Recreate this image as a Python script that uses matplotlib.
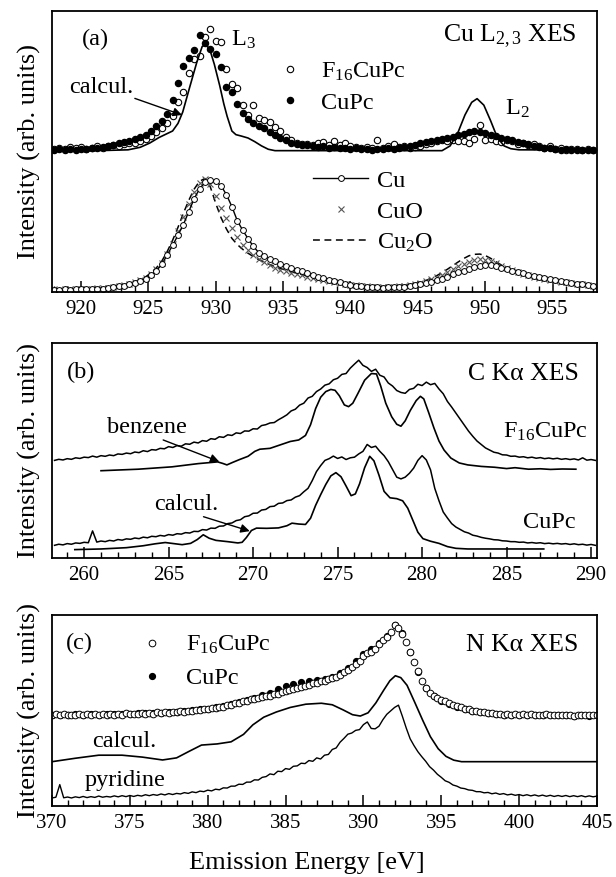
import numpy as np
import matplotlib
matplotlib.use("Agg")
import matplotlib.pyplot as plt
from matplotlib.ticker import MultipleLocator

plt.rcParams['font.family'] = ['Liberation Serif', 'DejaVu Serif']
plt.rcParams['mathtext.fontset'] = 'custom'
plt.rcParams['mathtext.rm'] = 'Liberation Serif'
plt.rcParams['mathtext.it'] = 'Liberation Serif:italic'

# ---------------- (a) Cu L2,3 XES, sampled every 0.4 eV from 918 eV ----------------
cu_start, cu_step = 918.0, 0.4
f16_cu = [51.0, 51.3, 50.8, 51.5, 51.2, 51.6, 51.0, 51.4, 51.8, 51.3,
          52.0, 52.3, 52.0, 52.6, 53.0, 53.2, 53.8, 54.6, 55.5, 57.0,
          58.5, 60.3, 62.5, 67.5, 71.2, 78.0, 83.0, 84.0, 90.7, 93.6,
          89.4, 89.0, 79.4, 74.0, 72.5, 66.5, 63.0, 66.5, 61.8, 61.2,
          60.6, 58.8, 57.2, 55.3, 54.2, 53.2, 52.8, 52.5, 52.2, 53.0,
          53.5, 52.3, 53.6, 52.2, 53.2, 51.8, 51.5, 51.2, 51.6, 51.3,
          54.2, 51.3, 51.8, 52.8, 51.6, 51.8, 51.3, 51.5, 52.0, 52.8,
          53.2, 53.6, 54.0, 53.8, 54.2, 53.6, 53.8, 53.2, 54.5, 59.4,
          54.2, 54.6, 53.8, 53.5, 54.0, 53.8, 52.8, 53.2, 52.2, 52.6,
          51.8, 51.2, 51.8, 50.8, 51.3, 50.6, 51.0, 50.8, 50.4, 50.8,
          50.5]
cupc_cu = [50.6, 50.9, 50.5, 50.8, 50.6, 51.0, 50.8, 51.4, 51.2, 51.6,
           52.0, 52.3, 53.0, 53.3, 53.8, 54.6, 55.3, 56.0, 57.4, 59.0,
           61.0, 63.2, 68.4, 74.2, 80.5, 83.4, 86.0, 91.5, 88.5, 86.5,
           84.7, 80.2, 73.0, 71.0, 67.0, 63.6, 61.6, 60.0, 59.2, 58.2,
           57.0, 55.8, 54.8, 54.0, 53.2, 52.8, 52.4, 52.2, 52.0, 51.6,
           51.8, 51.4, 51.6, 51.2, 51.4, 51.0, 51.2, 50.8, 51.0, 50.7,
           51.0, 50.8, 51.1, 51.0, 51.4, 51.6, 52.0, 52.4, 52.9, 53.3,
           53.6, 54.0, 54.5, 54.9, 55.3, 55.8, 56.3, 56.8, 57.2, 56.8,
           56.6, 56.0, 55.4, 54.8, 54.4, 54.0, 53.4, 52.9, 52.5, 52.0,
           51.7, 51.4, 51.1, 50.9, 50.7, 50.8, 50.5, 50.7, 50.4, 50.6,
           50.4]
calc_cu_e = [917.85, 920.0, 922.0, 923.5, 924.4, 925.1, 925.8, 926.8, 927.2, 927.55,
             928.1, 928.6, 929.0, 929.25, 929.55, 929.9, 930.3, 930.6, 930.85, 931.2,
             931.5, 931.9, 932.4, 932.9, 933.4, 933.9, 934.4, 946.8, 947.4, 948.0,
             948.5, 949.0, 949.4, 949.9, 950.4, 950.9, 951.4, 951.9, 952.5, 958.3]
calc_cu = [50.3, 50.3, 50.4, 50.6, 51.5, 53.0, 55.0, 57.3, 60.0, 64.0,
           73.4, 81.8, 87.4, 88.0, 86.5, 81.0, 73.4, 67.0, 62.5, 57.3,
           56.0, 55.5, 54.8, 53.5, 52.0, 50.8, 50.3, 50.3, 52.0, 57.0,
           63.0, 67.5, 68.8, 66.5, 61.0, 55.0, 52.0, 51.0, 50.6, 50.5]
cu_metal = [0.8, 0.7, 0.9, 0.8, 1.0, 0.9, 1.1, 1.0, 1.2, 1.2,
            1.4, 1.7, 2.0, 2.3, 2.7, 3.2, 3.8, 4.7, 5.9, 7.6,
            9.8, 13.2, 16.6, 20.2, 24.0, 28.6, 33.2, 36.7, 39.0, 40.0,
            39.4, 37.8, 34.6, 30.4, 25.4, 22.0, 19.0, 16.2, 14.0, 12.8,
            11.8, 11.0, 10.1, 9.4, 8.7, 8.0, 7.3, 6.6, 6.0, 5.4,
            4.9, 4.3, 3.8, 3.4, 3.0, 2.6, 2.3, 2.1, 1.9, 1.8,
            1.7, 1.6, 1.7, 1.7, 1.8, 1.9, 2.1, 2.4, 2.7, 3.1,
            3.6, 4.2, 4.8, 5.5, 6.3, 7.0, 7.6, 8.3, 8.8, 9.3,
            9.6, 9.5, 9.1, 8.7, 8.1, 7.6, 7.1, 6.6, 6.1, 5.7,
            5.3, 4.9, 4.5, 4.2, 3.8, 3.5, 3.2, 3.0, 2.7, 2.5,
            2.3]
cu_oxide = [0.9, 0.8, 1.0, 0.9, 1.1, 1.0, 1.2, 1.1, 1.3, 1.4,
            1.6, 1.8, 2.1, 2.5, 2.9, 3.5, 4.2, 5.1, 6.4, 8.1,
            10.2, 13.4, 17.2, 21.8, 26.8, 31.4, 35.6, 38.8, 40.2, 38.4,
            34.0, 30.0, 26.3, 22.6, 19.4, 16.8, 14.8, 13.2, 11.9, 10.8,
            9.6, 8.7, 8.0, 7.4, 6.9, 6.4, 5.9, 5.4, 5.0, 4.6,
            4.2, 3.8, 3.4, 3.1, 2.8, 2.6, 2.4, 2.2, 2.0, 1.9,
            1.8, 1.8, 1.9, 1.9, 2.0, 2.2, 2.5, 2.8, 3.3, 3.8,
            4.5, 5.3, 6.2, 7.2, 8.2, 9.2, 10.1, 10.8, 11.3, 11.6,
            11.5, 11.0, 10.2, 9.3, 8.5, 7.8, 7.1, 6.5, 6.0, 5.5,
            5.1, 4.7, 4.3, 4.0, 3.7, 3.4, 3.1, 2.9, 2.7, 2.5,
            2.3]
cu2_oxide = [0.8, 0.8, 0.9, 0.9, 1.0, 1.0, 1.1, 1.2, 1.3, 1.4,
             1.6, 1.9, 2.2, 2.6, 3.1, 3.7, 4.4, 5.4, 6.8, 8.6,
             11.0, 14.4, 18.4, 23.0, 28.0, 32.6, 36.6, 39.4, 40.4, 37.4,
             31.6, 26.4, 22.4, 19.1, 16.9, 15.2, 13.8, 12.6, 11.5, 10.6,
             9.8, 9.0, 8.4, 7.8, 7.2, 6.7, 6.2, 5.7, 5.2, 4.8,
             4.4, 4.0, 3.6, 3.3, 3.0, 2.7, 2.5, 2.3, 2.1, 2.0,
             1.9, 1.9, 1.9, 2.0, 2.1, 2.3, 2.6, 3.0, 3.5, 4.1,
             4.9, 5.8, 6.9, 8.1, 9.4, 10.7, 11.9, 12.9, 13.4, 13.5,
             13.0, 12.0, 10.8, 9.6, 8.6, 7.8, 7.1, 6.5, 5.9, 5.4,
             5.0, 4.6, 4.2, 3.9, 3.6, 3.3, 3.1, 2.9, 2.7, 2.5,
             2.3]

# ---------------- (b) C K-alpha XES, sampled every 0.25 eV from 258.25 eV ----------------
c_start, c_step = 258.25, 0.25
f16_c = [45.4, 45.9, 45.6, 46.2, 45.9, 46.6, 46.3, 46.9,
         46.7, 47.4, 46.9, 47.6, 47.3, 47.9, 47.6, 48.4,
         48.2, 48.8, 48.5, 49.3, 49.0, 49.9, 49.5, 50.4,
         50.2, 51.0, 50.8, 51.8, 51.4, 52.3, 52.0, 53.1,
         52.9, 53.9, 53.5, 54.6, 54.3, 55.5, 55.2, 56.4,
         56.1, 57.3, 57.0, 58.2, 57.9, 59.1, 59.0, 60.1,
         60.0, 61.6, 62.0, 62.8, 63.0, 64.3, 65.4, 66.6,
         68.4, 69.2, 71.1, 72.0, 74.4, 75.2, 77.4, 78.6,
         80.4, 81.0, 82.9, 83.6, 85.4, 85.8, 88.3, 90.2,
         92.0, 89.6, 88.6, 86.8, 87.8, 85.0, 84.2, 81.4,
         80.0, 77.9, 77.0, 76.6, 78.4, 78.9, 80.8, 80.2,
         81.8, 80.6, 81.2, 78.6, 76.4, 72.8, 70.2, 67.4,
         64.6, 61.8, 59.0, 56.6, 54.4, 52.8, 51.2, 50.2,
         49.2, 48.8, 48.0, 47.9, 47.3, 47.4, 46.9, 47.1,
         46.6, 46.9, 46.4, 46.7, 46.2, 46.5, 46.1, 46.4,
         45.9, 46.2, 45.8, 46.1, 45.6, 46.6, 45.5, 45.8,
         45.4]
cupc_c = [5.9, 6.4, 6.1, 6.7, 6.4, 7.0, 6.8, 7.3,
          7.1, 12.6, 7.4, 7.9, 7.6, 8.2, 7.9, 8.6,
          8.3, 8.9, 8.7, 9.3, 9.0, 9.7, 9.4, 10.1,
          9.9, 10.5, 10.2, 10.9, 10.6, 11.3, 11.1, 11.8,
          11.6, 12.4, 12.3, 13.2, 13.0, 13.9, 13.8, 14.8,
          14.9, 16.0, 16.3, 17.4, 17.8, 19.2, 19.6, 20.8,
          20.9, 22.3, 22.6, 23.9, 24.1, 25.4, 25.6, 26.7,
          27.0, 28.3, 29.0, 30.8, 32.4, 36.0, 40.2, 43.0,
          45.4, 46.2, 47.4, 46.3, 47.0, 45.8, 46.6, 46.9,
          48.4, 49.6, 52.8, 51.4, 52.0, 49.6, 47.6, 44.8,
          41.2, 37.6, 36.8, 37.6, 39.4, 41.8, 45.4, 47.6,
          45.6, 41.0, 32.4, 26.6, 21.4, 18.6, 16.0, 14.4,
          13.3, 12.2, 11.6, 10.6, 10.2, 9.6, 9.2, 8.9,
          8.5, 8.4, 8.0, 7.9, 7.6, 7.6, 7.3, 7.4,
          7.0, 7.2, 6.9, 7.1, 6.7, 6.9, 6.6, 6.8,
          6.5, 6.7, 6.3, 6.6, 6.2, 6.4, 6.0, 6.3,
          5.9]
benzene_e = [261.0, 263.2, 265.2, 266.75, 267.9, 268.2, 268.45, 268.8, 269.2, 269.7,
             270.1, 270.4, 271.0, 271.6, 272.2, 272.7, 273.1, 273.4, 273.7, 274.0,
             274.3, 274.6, 274.85, 275.1, 275.4, 275.65, 275.9, 276.2, 276.6, 277.0,
             277.3, 277.55, 277.85, 278.2, 278.5, 278.75, 279.0, 279.3, 279.65, 279.9,
             280.1, 280.4, 280.7, 281.0, 281.3, 281.7, 282.2, 282.7, 283.5, 284.3,
             285.0, 285.5, 286.3, 287.0, 287.6, 288.3, 289.1]
benzene = [40.6, 41.3, 42.4, 43.9, 44.7, 44.0, 43.3, 44.5, 45.8, 47.3,
           49.6, 50.6, 51.0, 52.6, 54.2, 54.9, 57.0, 62.0, 69.5, 74.8,
           77.4, 78.4, 78.0, 75.5, 71.2, 70.4, 72.0, 76.5, 82.7, 85.8,
           85.6, 80.0, 72.0, 65.7, 62.2, 61.3, 63.8, 68.6, 73.2, 75.2,
           74.0, 67.4, 60.5, 54.4, 50.2, 46.5, 44.2, 43.3, 42.6, 42.2,
           41.6, 42.0, 41.3, 41.5, 41.2, 41.4, 41.3]
calc_c_e = [259.45, 261.0, 262.5, 263.5, 264.2, 264.8, 265.3, 265.8, 266.3, 266.7,
            267.05, 267.4, 267.8, 268.5, 269.1, 269.35, 269.6, 269.9, 270.2, 270.8,
            271.5, 272.0, 272.3, 272.7, 273.1, 273.4, 273.7, 274.0, 274.3, 274.6,
            274.9, 275.2, 275.5, 275.8, 276.05, 276.3, 276.6, 276.9, 277.15, 277.45,
            277.75, 278.1, 278.5, 278.85, 279.15, 279.45, 279.75, 280.05, 280.5, 281.0,
            281.5, 282.0, 282.7, 287.2]
calc_c = [3.9, 4.2, 4.8, 5.7, 6.6, 7.2, 6.7, 6.2, 6.8, 8.6,
          10.8, 9.2, 8.2, 7.6, 7.0, 7.3, 9.5, 12.8, 13.9, 13.8,
          14.0, 15.0, 16.2, 15.8, 15.6, 18.5, 24.5, 29.5, 34.2, 38.2,
          39.7, 37.8, 33.5, 29.0, 29.8, 34.5, 42.0, 47.3, 45.2, 38.5,
          31.0, 28.0, 27.6, 26.6, 23.2, 17.6, 12.0, 9.0, 7.8, 6.8,
          5.3, 4.5, 4.2, 4.2]

# ---------------- (c) N K-alpha XES, sampled every 0.25 eV from 370 eV ----------------
n_start, n_step = 370.0, 0.25
f16_n = [47.4, 48.0, 47.5, 48.1, 47.6, 47.9, 47.4, 48.2,
         47.7, 48.0, 47.6, 48.3, 47.8, 48.1, 47.7, 48.4,
         47.9, 48.2, 47.8, 48.5, 48.0, 48.4, 48.0, 48.7,
         48.3, 48.7, 48.4, 49.0, 48.7, 49.1, 48.8, 49.4,
         49.1, 49.6, 49.4, 50.0, 49.8, 50.3, 50.2, 50.8,
         50.6, 51.3, 51.2, 52.0, 52.0, 52.9, 53.0, 53.9,
         53.8, 54.8, 54.9, 55.8, 56.0, 56.6, 56.9, 57.6,
         57.8, 58.6, 58.9, 59.8, 60.2, 60.9, 61.2, 62.0,
         62.3, 63.0, 63.4, 64.2, 64.5, 65.3, 65.6, 66.3,
         66.8, 67.8, 68.6, 70.0, 71.4, 73.0, 74.4, 76.0,
         78.4, 80.2, 80.8, 82.4, 84.8, 86.8, 88.6, 91.2,
         94.6, 93.0, 90.0, 86.0, 80.8, 75.4, 70.6, 65.6,
         62.0, 59.4, 57.8, 56.6, 55.6, 54.8, 53.8, 53.0,
         52.4, 51.6, 51.0, 50.6, 50.0, 49.6, 49.2, 49.0,
         48.6, 48.5, 48.2, 48.3, 47.9, 48.2, 47.8, 48.1,
         47.6, 48.0, 47.5, 48.0, 47.6, 47.9, 47.4, 48.0,
         47.6, 47.9, 47.4, 47.9, 47.5, 47.8, 47.3, 47.9,
         47.5, 47.8, 47.4, 47.8, 47.4]
cupc_n_step = 0.5
cupc_n = [47.6, 47.9, 47.7, 48.0, 47.8, 48.1, 47.9, 48.2,
          48.0, 48.3, 48.2, 48.5, 48.5, 48.8, 48.9, 49.2,
          49.4, 49.8, 50.1, 50.6, 51.0, 51.7, 52.5, 53.5,
          54.5, 55.6, 56.8, 58.0, 59.4, 61.0, 62.6, 64.0,
          65.0, 65.6, 66.0, 66.6, 67.6, 69.4, 72.4, 76.0,
          79.8, 82.4, 85.4, 89.2, 95.0, 90.4, 80.6, 70.0,
          61.6, 57.4, 55.2, 53.4, 52.0, 50.8, 49.8, 49.0,
          48.5, 48.1, 47.9, 47.7, 47.7, 47.5, 47.6, 47.4,
          47.5, 47.4, 47.5, 47.3, 47.4, 47.3, 47.4]
calc_n_e = [370.0, 371.5, 373.0, 374.5, 375.8, 377.1, 378.0, 378.8, 379.6, 380.6,
            381.5, 382.3, 382.9, 383.6, 384.4, 385.3, 386.3, 387.3, 388.0, 388.7,
            389.3, 389.8, 390.3, 390.8, 391.3, 391.7, 392.05, 392.4, 392.8, 393.3,
            393.8, 394.3, 394.8, 395.3, 395.8, 396.3, 405.0]
calc_n = [23.2, 25.0, 26.6, 26.6, 25.6, 24.1, 25.2, 28.6, 31.9, 32.5,
          33.6, 37.5, 42.5, 46.5, 49.2, 51.6, 53.3, 53.8, 53.0, 50.3,
          47.8, 47.1, 48.8, 54.0, 60.6, 65.6, 68.2, 67.2, 63.2, 54.2,
          45.0, 36.3, 30.0, 26.0, 24.0, 23.2, 23.2]
pyridine = [4.2, 4.6, 11.2, 4.3, 4.7, 4.2, 4.8, 4.4,
            5.0, 4.4, 4.9, 4.5, 5.2, 4.6, 5.0, 4.7,
            5.3, 4.8, 5.4, 4.9, 5.5, 5.0, 5.6, 5.2,
            5.9, 5.4, 6.0, 5.6, 6.3, 5.8, 6.5, 6.0,
            6.6, 6.3, 7.0, 6.6, 7.4, 7.0, 7.8, 7.5,
            8.3, 7.9, 8.8, 8.5, 9.5, 9.4, 10.4, 10.4,
            11.4, 11.3, 12.5, 12.5, 13.7, 13.6, 15.0, 15.4,
            16.8, 16.4, 18.2, 18.0, 19.6, 19.2, 20.8, 21.0,
            22.4, 22.2, 23.8, 23.4, 25.2, 24.6, 26.6, 27.0,
            29.6, 30.4, 33.4, 35.4, 37.6, 38.2, 39.6, 40.0,
            42.6, 44.0, 40.6, 40.4, 41.8, 45.2, 48.0, 49.8,
            51.6, 52.8, 47.0, 40.8, 35.2, 31.6, 28.4, 25.8,
            23.4, 20.6, 18.8, 16.6, 15.0, 13.2, 12.4, 11.0,
            10.4, 9.4, 9.1, 8.4, 8.2, 7.5, 7.5, 6.9,
            7.1, 6.4, 6.8, 6.1, 6.5, 5.8, 6.2, 5.6,
            6.0, 5.4, 5.9, 5.3, 5.8, 5.2, 5.7, 5.1,
            5.6, 5.0, 5.5, 5.0, 5.5, 4.9, 5.4, 4.9,
            5.4, 4.8, 5.3, 4.8, 5.2]


def grid(start, step, values):
    return start + step * np.arange(len(values))


def style_panel(ax, xlim, majors):
    ax.set_xlim(*xlim)
    ax.set_ylim(0, 100)
    ax.set_yticks([])
    ax.set_xticks(majors)
    ax.xaxis.set_minor_locator(MultipleLocator(1))
    ax.tick_params(axis='x', which='major', direction='in', length=8, width=1.1,
                   labelsize=15, pad=6)
    ax.tick_params(axis='x', which='minor', direction='in', length=4, width=1.0)
    for sp in ax.spines.values():
        sp.set_linewidth(1.3)
    ax.set_ylabel('Intensity (arb. units)', fontsize=19)
    ax.yaxis.set_label_coords(-0.02, 0.5)


def arrow(ax, head, tail):
    ax.annotate('', xy=head, xycoords='data', xytext=tail, textcoords='axes fraction',
                arrowprops=dict(arrowstyle='-|>', lw=1.0, color='k',
                                mutation_scale=13, shrinkA=0, shrinkB=0))


fig = plt.figure(figsize=(6.16, 8.77), dpi=100)
ax_a = fig.add_axes([52 / 616, 1 - 292 / 877, 545 / 616, 281 / 877])
ax_b = fig.add_axes([52 / 616, 1 - 558 / 877, 545 / 616, 215 / 877])
ax_c = fig.add_axes([52 / 616, 1 - 806 / 877, 545 / 616, 191 / 877])
fs = 17.5

# ---- panel (a)
e_a = grid(cu_start, cu_step, f16_cu)
h_f16, = ax_a.plot(e_a, f16_cu, 'o', ms=4.6, mfc='white', mec='k', mew=0.8,
                   label='F$_{16}$CuPc')
h_cupc, = ax_a.plot(grid(cu_start, cu_step, cupc_cu), cupc_cu, 'o', ms=4.4,
                    color='k', label='CuPc')
ax_a.plot(calc_cu_e, calc_cu, '-', color='k', lw=1.2)
h_cu2o, = ax_a.plot(grid(cu_start, cu_step, cu2_oxide), cu2_oxide, color='k', lw=1.1,
                    ls=(0, (4.5, 3)), label='Cu$_2$O')
h_cuo, = ax_a.plot(grid(cu_start, cu_step, cu_oxide), cu_oxide, 'x', ms=4.2,
                   mew=0.8, color='#555555', label='CuO')
h_cu, = ax_a.plot(grid(cu_start, cu_step, cu_metal), cu_metal, '-o', color='k', lw=1.0,
                  ms=4.2, mfc='white', mew=0.7, label='Cu')
style_panel(ax_a, (917.85, 958.3), range(920, 956, 5))

leg1 = ax_a.legend([h_f16, h_cupc], ['F$_{16}$CuPc', 'CuPc'], loc='upper left',
                   bbox_to_anchor=(0.415, 0.823), frameon=False, fontsize=fs,
                   handlelength=1.0, handletextpad=0.75, labelspacing=0.36,
                   borderpad=0, borderaxespad=0, numpoints=1)
ax_a.add_artist(leg1)
ax_a.legend([h_cu, h_cuo, h_cu2o], ['Cu', 'CuO', 'Cu$_2$O'], loc='upper left',
            bbox_to_anchor=(0.4795, 0.435), frameon=False, fontsize=fs,
            handlelength=2.26, handletextpad=0.35, labelspacing=0.37,
            borderpad=0, borderaxespad=0, numpoints=1)
ax_a.text(0.079, 0.9, '(a)', transform=ax_a.transAxes, fontsize=fs,
          ha='center', va='center')
ax_a.text(0.328, 0.897, 'L$_3$', transform=ax_a.transAxes, fontsize=fs,
          ha='left', va='center')
ax_a.text(0.832, 0.653, 'L$_2$', transform=ax_a.transAxes, fontsize=fs,
          ha='left', va='center')
ax_a.text(0.963, 0.91, 'Cu L$_{2,3}$ XES', transform=ax_a.transAxes, fontsize=18.5,
          ha='right', va='center')
ax_a.text(0.0896, 0.726, 'calcul.', transform=ax_a.transAxes, fontsize=fs,
          ha='center', va='center')
arrow(ax_a, (927.5, 63.0), (0.152, 0.689))

# ---- panel (b)
e_b = grid(c_start, c_step, f16_c)
ax_b.plot(e_b, f16_c, color='k', lw=1.1)
ax_b.plot(benzene_e, benzene, color='k', lw=1.2)
ax_b.plot(grid(c_start, c_step, cupc_c), cupc_c, color='k', lw=1.1)
ax_b.plot(calc_c_e, calc_c, color='k', lw=1.2)
style_panel(ax_b, (258.1, 290.35), range(260, 291, 5))
ax_b.text(0.053, 0.863, '(b)', transform=ax_b.transAxes, fontsize=fs,
          ha='center', va='center')
ax_b.text(0.967, 0.856, 'C K\u03b1 XES', transform=ax_b.transAxes, fontsize=18.5,
          ha='right', va='center')
ax_b.text(0.174, 0.605, 'benzene', transform=ax_b.transAxes, fontsize=fs,
          ha='center', va='center')
ax_b.text(0.984, 0.586, 'F$_{16}$CuPc', transform=ax_b.transAxes, fontsize=fs,
          ha='right', va='center')
ax_b.text(0.247, 0.247, 'calcul.', transform=ax_b.transAxes, fontsize=fs,
          ha='center', va='center')
ax_b.text(0.96, 0.167, 'CuPc', transform=ax_b.transAxes, fontsize=fs,
          ha='right', va='center')
arrow(ax_b, (268.0, 44.8), (0.204, 0.549))
arrow(ax_b, (269.8, 12.5), (0.278, 0.192))

# ---- panel (c)
h_cupc_n, = ax_c.plot(grid(n_start, cupc_n_step, cupc_n), cupc_n, 'o', ms=4.2,
                      color='k', label='CuPc')
h_f16_n, = ax_c.plot(grid(n_start, n_step, f16_n), f16_n, 'o', ms=4.8, mfc='white',
                     mec='k', mew=0.7, label='F$_{16}$CuPc')
ax_c.plot(calc_n_e, calc_n, color='k', lw=1.2)
ax_c.plot(grid(n_start, n_step, pyridine), pyridine, color='k', lw=1.0)
style_panel(ax_c, (370, 405), range(370, 406, 5))
ax_c.legend([h_f16_n, h_cupc_n], ['F$_{16}$CuPc', 'CuPc'], loc='upper left',
            bbox_to_anchor=(0.166, 0.9), frameon=False, fontsize=fs,
            handlelength=0.8, handletextpad=1.0, labelspacing=0.45,
            borderpad=0, borderaxespad=0, numpoints=1)
ax_c.text(0.051, 0.853, '(c)', transform=ax_c.transAxes, fontsize=fs,
          ha='center', va='center')
ax_c.text(0.966, 0.843, 'N K\u03b1 XES', transform=ax_c.transAxes, fontsize=18.5,
          ha='right', va='center')
ax_c.text(0.132, 0.34, 'calcul.', transform=ax_c.transAxes, fontsize=fs,
          ha='center', va='center')
ax_c.text(0.134, 0.136, 'pyridine', transform=ax_c.transAxes, fontsize=fs,
          ha='center', va='center')
ax_c.set_xlabel('Emission Energy [eV]', fontsize=19)
ax_c.xaxis.set_label_coords(0.467, -0.24)

fig.savefig('out.png', dpi=100)
